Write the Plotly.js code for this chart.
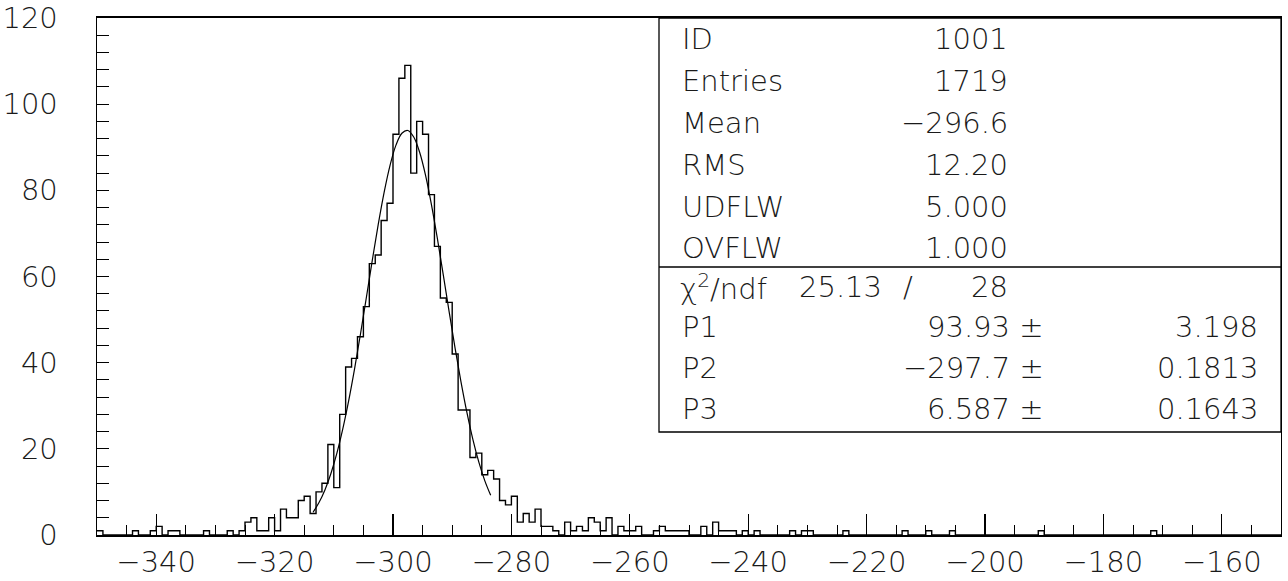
<!DOCTYPE html>
<html>
<head>
<meta charset="utf-8">
<script src="https://cdn.plot.ly/plotly-3.0.1.min.js"></script>
<style>
  html, body { margin: 0; padding: 0; background: #fff; }
  #chart { width: 1288px; height: 581px; }
</style>
</head>
<body>
<div id="chart"></div>
<script>
// Histogram 1001: 200 bins of width 1 from -350 to -150
const binLow = -350;
const binWidth = 1;
const counts = [
  1, 0, 0, 0, 0, 0, 1, 0, 0, 1,        // -350 .. -341
  2, 0, 1, 1, 0, 0, 0, 0, 1, 0,        // -340 .. -331
  0, 0, 1, 0, 1, 3, 4, 1, 1, 4,        // -330 .. -321
  1, 6, 4, 4, 8, 9, 5, 10, 12, 21,     // -320 .. -311
  11, 28, 39, 41, 46, 53, 63, 65, 73, 77, // -310 .. -301
  93, 106, 109, 84, 96, 93, 79, 67, 55, 54, // -300 .. -291
  42, 29, 29, 18, 19, 14, 15, 13, 8, 7,  // -290 .. -281
  9, 3, 5, 3, 6, 2, 2, 1, 0, 3,         // -280 .. -271
  1, 2, 1, 4, 3, 1, 4, 0, 2, 1,         // -270 .. -261
  1, 2, 0, 0, 1, 2, 1, 1, 1, 1,         // -260 .. -251
  0, 0, 2, 0, 3, 1, 1, 1, 0, 1,         // -250 .. -241
  0, 1, 0, 0, 0, 0, 0, 1, 0, 1,         // -240 .. -231
  1, 0, 0, 0, 0, 0, 1, 0, 0, 0,         // -230 .. -221
  0, 0, 0, 0, 0, 0, 1, 0, 0, 0,         // -220 .. -211
  1, 0, 0, 0, 1, 0, 0, 0, 0, 0,         // -210 .. -201
  0, 0, 0, 0, 0, 0, 0, 0, 0, 1,         // -200 .. -191
  0, 0, 0, 0, 0, 0, 0, 0, 0, 0,         // -190 .. -181
  0, 0, 0, 0, 0, 0, 0, 0, 1, 0,         // -180 .. -171
  0, 0, 0, 0, 0, 0, 0, 0, 0, 0,         // -170 .. -161
  0, 0, 0, 0, 0, 0, 0, 0, 0, 0          // -160 .. -151
];

// Gaussian fit curve as drawn (P1=93.93, P2=-297.7, P3=6.587), read at unit steps
const fitX = [-313.5, -312.5, -311.5, -310.5, -309.5, -308.5, -307.5, -306.5, -305.5, -304.5,
              -303.5, -302.5, -301.5, -300.5, -299.5, -298.5, -297.5, -296.5, -295.5, -294.5,
              -293.5, -292.5, -291.5, -290.5, -289.5, -288.5, -287.5, -286.5, -285.5, -284.5, -283.5];
const fitY = [5.29, 7.53, 10.46, 14.22, 18.88, 24.50, 31.05, 38.48, 46.60, 55.13,
              63.75, 72.03, 79.53, 85.81, 90.49, 93.24, 93.89, 92.38, 88.84, 83.48,
              76.65, 68.78, 60.31, 51.69, 43.28, 35.42, 28.32, 22.13, 16.90, 12.61, 9.20];

// Statistics box
const statLabels = ["ID", "Entries", "Mean", "RMS", "UDFLW", "OVFLW"];
const statValues = ["1001", "1719", "\u2212296.6", "12.20", "5.000", "1.000"];
const chi2 = "25.13";
const ndf = "28";
const parLabels = ["P1", "P2", "P3"];
const parValues = ["93.93", "\u2212297.7", "6.587"];
const parErrors = ["3.198", "0.1813", "0.1643"];

const xTickVals = [-340, -320, -300, -280, -260, -240, -220, -200, -180, -160];
const yTickVals = [0, 20, 40, 60, 80, 100, 120];

// step outline
const stepX = [];
const stepY = [];
for (let i = 0; i < counts.length; i++) {
  stepX.push(binLow + i * binWidth);
  stepY.push(counts[i]);
}
stepX.push(binLow + counts.length * binWidth);
stepY.push(counts[counts.length - 1]);

const FONT = { family: "DejaVu Sans, Liberation Sans, sans-serif", size: 29, color: "#1a1a1a", weight: 200 };

const traces = [
  {
    type: "scatter", mode: "lines", x: stepX, y: stepY,
    line: { shape: "hv", color: "#000", width: 1.4 },
    hoverinfo: "skip", showlegend: false
  },
  {
    type: "scatter", mode: "lines", x: fitX, y: fitY,
    line: { shape: "spline", color: "#000", width: 1.2 },
    hoverinfo: "skip", showlegend: false
  }
];

// pixel helpers for the stats box (plot area in pixels)
const L = 97, R = 1281, T = 18, B = 535;
const px = v => (v - L) / (R - L);
const py = v => (B - v) / (B - T);

const annotations = [];
const rowY1 = [39, 81, 123, 165, 207, 248];
statLabels.forEach((s, i) => {
  annotations.push({ xref: "paper", yref: "paper", x: px(680), y: py(rowY1[i]), text: s,
    xanchor: "left", yanchor: "middle", showarrow: false, font: FONT });
  annotations.push({ xref: "paper", yref: "paper", x: px(1010), y: py(rowY1[i]), text: statValues[i],
    xanchor: "right", yanchor: "middle", showarrow: false, font: FONT });
});
annotations.push({ xref: "paper", yref: "paper", x: px(678), y: py(287), text: "\u03c7<sup>2</sup>/ndf",
  xanchor: "left", yanchor: "middle", showarrow: false, font: FONT });
annotations.push({ xref: "paper", yref: "paper", x: px(797), y: py(287), text: chi2,
  xanchor: "left", yanchor: "middle", showarrow: false, font: FONT });
annotations.push({ xref: "paper", yref: "paper", x: px(908), y: py(287), text: "/",
  xanchor: "center", yanchor: "middle", showarrow: false, font: FONT });
annotations.push({ xref: "paper", yref: "paper", x: px(1010), y: py(287), text: ndf,
  xanchor: "right", yanchor: "middle", showarrow: false, font: FONT });
const rowY2 = [327, 368, 409];
parLabels.forEach((s, i) => {
  annotations.push({ xref: "paper", yref: "paper", x: px(680), y: py(rowY2[i]), text: s,
    xanchor: "left", yanchor: "middle", showarrow: false, font: FONT });
  annotations.push({ xref: "paper", yref: "paper", x: px(1046), y: py(rowY2[i]), text: parValues[i] + " \u00b1",
    xanchor: "right", yanchor: "middle", showarrow: false, font: FONT });
  annotations.push({ xref: "paper", yref: "paper", x: px(1260), y: py(rowY2[i]), text: parErrors[i],
    xanchor: "right", yanchor: "middle", showarrow: false, font: FONT });
});

const shapes = [
  { type: "rect", xref: "paper", yref: "paper", x0: px(659), x1: 1, y0: py(432), y1: 1,
    line: { color: "#000", width: 1.3 }, fillcolor: "rgba(255,255,255,0)" },
  { type: "line", xref: "paper", yref: "paper", x0: px(659), x1: 1, y0: py(267), y1: py(267),
    line: { color: "#000", width: 1.3 } }
];

const layout = {
  width: 1288, height: 581,
  margin: { l: L, r: 1288 - R, t: T, b: 581 - B, pad: 0 },
  paper_bgcolor: "#fff", plot_bgcolor: "#fff",
  font: FONT,
  showlegend: false,
  xaxis: {
    range: [-350, -150], tickvals: xTickVals, ticks: "inside", ticklen: 21, tickwidth: 1.2, tickcolor: "#000",
    minor: { dtick: 5, tick0: 0, ticks: "inside", ticklen: 10, tickwidth: 1, tickcolor: "#000", showgrid: false },
    showgrid: false, zeroline: false, showline: true, linecolor: "#000", linewidth: 2, mirror: true,
    tickfont: FONT, ticklabelstandoff: 0, fixedrange: true
  },
  yaxis: {
    range: [0, 120], tickvals: yTickVals, ticks: "inside", ticklen: 12, tickwidth: 1.2, tickcolor: "#000",
    minor: { dtick: 4, tick0: 0, ticks: "inside", ticklen: 12, tickwidth: 1, tickcolor: "#000", showgrid: false },
    showgrid: false, zeroline: false, showline: true, linecolor: "#000", linewidth: 1.4, mirror: true,
    tickfont: FONT, ticklabelstandoff: 32, fixedrange: true
  },
  annotations: annotations,
  shapes: shapes
};

Plotly.newPlot("chart", traces, layout, { staticPlot: true, displayModeBar: false });
</script>
</body>
</html>
